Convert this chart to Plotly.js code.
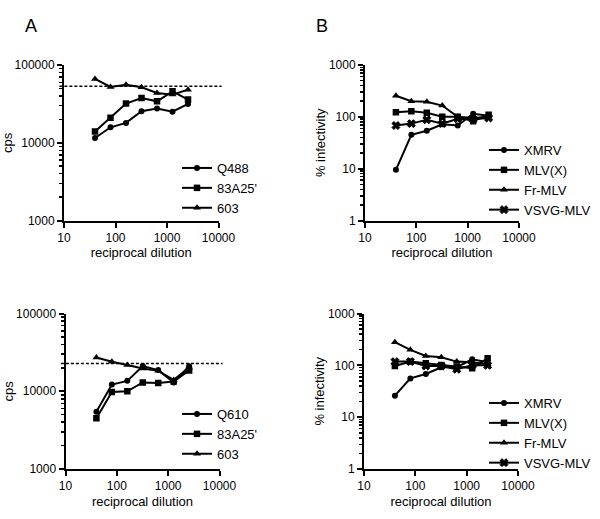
<!DOCTYPE html>
<html>
<head>
<meta charset="utf-8">
<script src="https://cdn.plot.ly/plotly-3.0.1.min.js"></script>
<style>html,body{margin:0;padding:0;background:#fff;}#chart{width:600px;height:519px;}</style>
</head>
<body>
<div id="chart"></div>
<script>
// ---- data ----
const dilutions = [40, 80, 160, 320, 640, 1280, 2560];

// Panel A (top)
const topA_Q488   = [11500, 15800, 18000, 25400, 27500, 25100, 31600];
const topA_83A25  = [14000, 20900, 31900, 37700, 34100, 45900, 35900];
const topA_603    = [66100, 52200, 55900, 51600, 43700, 41600, 48200];
const topA_baseline = 53200;

// Panel B (top)
const topB_XMRV = [9.5, 45, 54, 72, 68, 115, 105];
const topB_MLVX = [122, 128, 120, 100, 100, 82, 110];
const topB_FrMLV = [255, 200, 195, 165, 100, 95, 100];
const topB_VSVG = [68, 74, 88, 74, 92, 90, 95];

// Panel A (bottom)
const botA_Q610  = [5450, 12200, 13600, 21100, 18700, 13000, 21000];
const botA_83A25 = [4500, 9800, 10000, 13000, 12800, 13300, 18500];
const botA_603   = [27200, 23900, 21700, 19600, 18300, 14000, 20000];
const botA_baseline = 22800;

// Panel B (bottom)
const botB_XMRV = [26, 56, 68, 92, 92, 131, 115];
const botB_MLVX = [97, 118, 110, 102, 95, 88, 137];
const botB_FrMLV = [280, 199, 152, 143, 118, 115, 105];
const botB_VSVG = [118, 118, 97, 97, 84, 100, 100];

const namesA1 = ['Q488', "83A25'", '603'];
const namesA2 = ['Q610', "83A25'", '603'];
const namesB = ['XMRV', 'MLV(X)', 'Fr-MLV', 'VSVG-MLV'];
const symbolsA = ['circle', 'square', 'triangle-up'];
const symbolsB = ['circle', 'square', 'triangle-up', 'x'];
const sizesA = [6, 6.5, 7];
const sizesB = [6, 6.5, 7, 7];

// minor tick positions (2..9 within each decade)
const minorDigits = [2, 3, 4, 5, 6, 7, 8, 9];
const decadesA = [1000, 10000];
const decadesB = [1, 10, 100];

// ---- build ----
const FONT = 'Arial, "Liberation Sans", Helvetica, sans-serif';
function minorVals(decs) {
  const out = [];
  decs.forEach(d => minorDigits.forEach(m => out.push(d * m)));
  return out;
}
function mk(y, name, sym, size, xa, ya, leg) {
  return {
    x: dilutions, y: y, name: name, type: 'scatter', mode: 'lines+markers',
    xaxis: xa, yaxis: ya, legend: leg,
    line: {color: '#000', width: 2},
    marker: {symbol: sym, size: size, color: '#000', line: {color: '#000', width: sym === 'x' ? 1 : 0}}
  };
}
const traces = [];
[topA_Q488, topA_83A25, topA_603].forEach((s, i) => traces.push(mk(s, namesA1[i], symbolsA[i], sizesA[i], 'x', 'y', 'legend')));
[topB_XMRV, topB_MLVX, topB_FrMLV, topB_VSVG].forEach((s, i) => traces.push(mk(s, namesB[i], symbolsB[i], sizesB[i], 'x2', 'y2', 'legend2')));
[botA_Q610, botA_83A25, botA_603].forEach((s, i) => traces.push(mk(s, namesA2[i], symbolsA[i], sizesA[i], 'x3', 'y3', 'legend3')));
[botB_XMRV, botB_MLVX, botB_FrMLV, botB_VSVG].forEach((s, i) => traces.push(mk(s, namesB[i], symbolsB[i], sizesB[i], 'x4', 'y4', 'legend4')));

function xax(dom, anchor) {
  return {
    type: 'log', range: [1, 4], domain: dom, anchor: anchor,
    showline: true, linewidth: 2, linecolor: '#000', mirror: false,
    showgrid: false, zeroline: false,
    ticks: 'outside', ticklen: 5, tickwidth: 2, tickcolor: '#000000',
    tickmode: 'linear', tick0: 0, dtick: 1, tickformat: 'd',
    tickfont: {family: FONT, size: 12, color: '#000'},
    title: {text: 'reciprocal dilution', font: {family: FONT, size: 13, color: '#000'}, standoff: 4}
  };
}
function yax(dom, anchor, rng, title, standoff, decs) {
  return {
    type: 'log', range: rng, domain: dom, anchor: anchor,
    showline: true, linewidth: 2, linecolor: '#000',
    showgrid: false, zeroline: false,
    ticks: 'outside', ticklen: 5, tickwidth: 2, tickcolor: '#000000',
    tickmode: 'array', tickvals: decs.concat([decs[decs.length - 1] * 10]), tickformat: 'd',
    minor: {ticks: 'outside', ticklen: 3, tickwidth: 1.5, tickcolor: '#000000',
            tickmode: 'array', tickvals: minorVals(decs), showgrid: false},
    tickfont: {family: FONT, size: 12, color: '#000'},
    title: {text: title, font: {family: FONT, size: 13, color: '#000'}, standoff: standoff}
  };
}
function leg(x, y) {
  return {x: x, y: y, xanchor: 'left', yanchor: 'top', bgcolor: 'rgba(0,0,0,0)',
    font: {family: FONT, size: 13, color: '#000'}, tracegroupgap: 0, itemwidth: 30};
}
const dXA1 = [64/600, 218.5/600], dXB1 = [365/600, 519/600];
const dXA2 = [65.5/600, 219.5/600], dXB2 = [364/600, 518/600];
const dYTop = [1 - 220.5/519, 1 - 65/519], dYBot = [1 - 469/519, 1 - 313.5/519];

const layout = {
  width: 600, height: 519, margin: {l: 0, r: 0, t: 0, b: 0},
  paper_bgcolor: '#fff', plot_bgcolor: '#fff', showlegend: true,
  font: {family: FONT, color: '#000'},
  xaxis: xax(dXA1, 'y'), yaxis: yax(dYTop, 'x', [3, 5], 'cps', 0, decadesA),
  xaxis2: xax(dXB1, 'y2'), yaxis2: yax(dYTop, 'x2', [0, 3], '% infectivity', 0, decadesB),
  xaxis3: xax(dXA2, 'y3'), yaxis3: yax(dYBot, 'x3', [3, 5], 'cps', 0, decadesA),
  xaxis4: xax(dXB2, 'y4'), yaxis4: yax(dYBot, 'x4', [0, 3], '% infectivity', 0, decadesB),
  legend: leg(177/600, 1 - 153/519),
  legend2: leg(484/600, 1 - 135/519),
  legend3: leg(177/600, 1 - 399/519),
  legend4: leg(484/600, 1 - 388/519),
  shapes: [
    {type: 'line', xref: 'x domain', yref: 'y', x0: -0.03, x1: 1.02, y0: topA_baseline, y1: topA_baseline,
     line: {color: '#000', width: 1.5, dash: '3px,2px'}},
    {type: 'line', xref: 'x3 domain', yref: 'y3', x0: -0.03, x1: 1.02, y0: botA_baseline, y1: botA_baseline,
     line: {color: '#000', width: 1.5, dash: '3px,2px'}}
  ],
  annotations: [
    {text: 'A', x: 23/600, y: 1 - 14/519, xref: 'paper', yref: 'paper', showarrow: false, font: {family: FONT, size: 18, color: '#000'}},
    {text: 'B', x: 322/600, y: 1 - 14/519, xref: 'paper', yref: 'paper', showarrow: false, font: {family: FONT, size: 18, color: '#000'}}
  ]
};
Plotly.newPlot('chart', traces, layout, {displayModeBar: false, staticPlot: true});
</script>
</body>
</html>
